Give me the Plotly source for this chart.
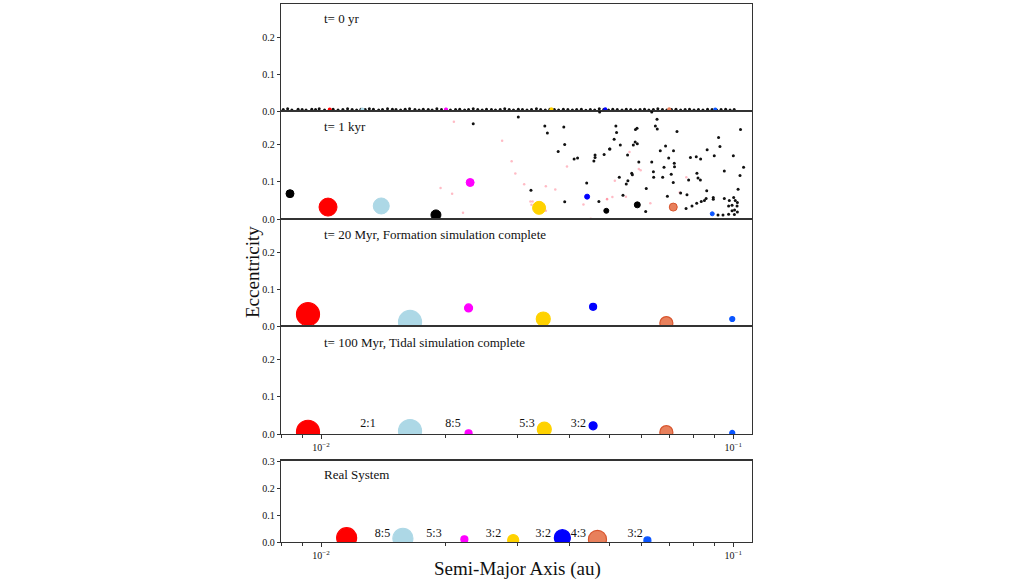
import plotly.graph_objects as go

# ---------------- data ----------------
# Panel 1 (t = 0 yr): embryos on near-circular orbits
p1_a = [0.0081, 0.0083, 0.0085, 0.0088, 0.0090, 0.0092, 0.0095, 0.0097, 0.0099, 0.0102,
        0.0105, 0.0107, 0.0110, 0.0113, 0.0116, 0.0119, 0.0122, 0.0125, 0.0128, 0.0131,
        0.0134, 0.0138, 0.0141, 0.0145, 0.0149, 0.0152, 0.0156, 0.0160, 0.0164, 0.0169,
        0.0173, 0.0177, 0.0182, 0.0186, 0.0191, 0.0196, 0.0201, 0.0206, 0.0212, 0.0217,
        0.0223, 0.0228, 0.0234, 0.0240, 0.0246, 0.0252, 0.0259, 0.0265, 0.0272, 0.0279,
        0.0286, 0.0293, 0.0301, 0.0308, 0.0316, 0.0324, 0.0333, 0.0341, 0.0350, 0.0359,
        0.0368, 0.0377, 0.0387, 0.0397, 0.0407, 0.0417, 0.0428, 0.0439, 0.0450, 0.0461,
        0.0473, 0.0485, 0.0498, 0.0510, 0.0523, 0.0537, 0.0550, 0.0564, 0.0579, 0.0594,
        0.0609, 0.0624, 0.0640, 0.0656, 0.0673, 0.0690, 0.0708, 0.0726, 0.0745, 0.0764,
        0.0783, 0.0803, 0.0823, 0.0844, 0.0866, 0.0888, 0.0911, 0.0934, 0.0958, 0.0982, 0.1005]
p1_e = [0.004, 0.006, 0.003, 0.005, 0.004, 0.003, 0.005, 0.004, 0.006, 0.003,
        0.004, 0.005, 0.003, 0.004, 0.006, 0.004, 0.003, 0.005, 0.004, 0.006,
        0.005, 0.003, 0.004, 0.006, 0.005, 0.004, 0.003, 0.005, 0.006, 0.004,
        0.003, 0.005, 0.004, 0.003, 0.006, 0.004, 0.005, 0.003, 0.004, 0.005,
        0.003, 0.004, 0.006, 0.004, 0.003, 0.005, 0.004, 0.003, 0.004, 0.006,
        0.004, 0.003, 0.005, 0.004, 0.003, 0.004, 0.006, 0.004, 0.003, 0.005,
        0.004, 0.003, 0.005, 0.004, 0.003, 0.004, 0.005, 0.002, 0.004, 0.003,
        0.006, 0.004, 0.003, 0.005, 0.004, 0.003, 0.005, 0.004, 0.003, 0.004,
        0.005, 0.003, 0.004, 0.006, 0.004, 0.003, 0.004, 0.005, 0.003, 0.004,
        0.005, 0.003, 0.004, 0.003, 0.005, 0.004, 0.003, 0.004, 0.005, 0.003, 0.004]
p1_col_a = [0.0105, 0.0126, 0.0201, 0.0362, 0.0489, 0.0699, 0.0904]
p1_col_e = [0.004, 0.004, 0.004, 0.005, 0.005, 0.005, 0.004]

# Panel 2 (t = 1 kyr): main bodies
p2_a = [0.00841, 0.0104, 0.0140, 0.0190, 0.0230, 0.0338, 0.0442, 0.0492, 0.0585, 0.0715, 0.0889]
p2_e = [0.068, 0.032, 0.035, 0.011, 0.098, 0.030, 0.060, 0.022, 0.038, 0.032, 0.014]
# small black bodies
p2_black_a = [0.0301, 0.0234, 0.0323, 0.0474, 0.0349, 0.0388, 0.0354, 0.0390, 0.0376, 0.0501,
              0.0411, 0.0419, 0.0462, 0.0462, 0.0459, 0.0486, 0.0441, 0.0390, 0.0472,
              0.0634, 0.0653, 0.0519, 0.0584, 0.0579, 0.0647, 0.0654, 0.0521, 0.0730, 0.0514,
              0.0578, 0.0585, 0.0572, 0.0532, 0.0685, 0.0502, 0.0554, 0.0665, 0.0716, 0.0697,
              0.0590, 0.0634, 0.0719, 0.0679, 0.0720, 0.0640, 0.0567, 0.0569, 0.0707, 0.0529,
              0.0641, 0.0674, 0.0555, 0.0550, 0.0715, 0.0615, 0.0540, 0.0692, 0.0613,
              0.1041, 0.0921, 0.0864, 0.0928, 0.0899, 0.1000, 0.0787, 0.0813, 0.0833, 0.1059,
              0.0951, 0.0816, 0.1038, 0.0821, 0.0832, 0.0779, 0.1027, 0.0862, 0.0745, 0.0772,
              0.0894, 0.0894, 0.0951, 0.0859, 0.0851, 0.0836, 0.0815, 0.0794, 0.0768,
              0.0978, 0.1002, 0.1011, 0.1023, 0.0993, 0.0974, 0.1021, 0.1007, 0.0993, 0.1023,
              0.0974, 0.1006, 0.0944, 0.0918]
p2_black_e = [0.274, 0.256, 0.077, 0.287, 0.250, 0.247, 0.231, 0.200, 0.181, 0.188,
              0.161, 0.164, 0.172, 0.165, 0.156, 0.173, 0.097, 0.046, 0.047,
              0.287, 0.268, 0.250, 0.244, 0.240, 0.250, 0.242, 0.232, 0.235, 0.214,
              0.207, 0.202, 0.199, 0.199, 0.196, 0.188, 0.172, 0.183, 0.183, 0.164,
              0.153, 0.153, 0.150, 0.139, 0.140, 0.127, 0.123, 0.119, 0.120, 0.112,
              0.112, 0.112, 0.103, 0.094, 0.098, 0.082, 0.064, 0.061, 0.020,
              0.240, 0.219, 0.186, 0.195, 0.170, 0.170, 0.165, 0.167, 0.161, 0.139,
              0.129, 0.123, 0.117, 0.110, 0.105, 0.105, 0.080, 0.076, 0.070, 0.065,
              0.058, 0.053, 0.055, 0.055, 0.050, 0.047, 0.042, 0.035, 0.028,
              0.050, 0.058, 0.050, 0.044, 0.037, 0.035, 0.035, 0.024, 0.022, 0.019,
              0.013, 0.012, 0.011, 0.011]
# small pink bodies
p2_pink_a = [0.0210, 0.0275, 0.0290, 0.0296, 0.0311, 0.0195, 0.0208, 0.0221, 0.0322, 0.0326,
             0.0324, 0.0395, 0.0351, 0.0370, 0.0494, 0.0433, 0.0451, 0.0351,
             0.0560, 0.0590, 0.0596, 0.0516, 0.0549, 0.0509, 0.0494, 0.0629, 0.0741, 0.0769]
p2_pink_e = [0.261, 0.210, 0.155, 0.122, 0.093, 0.083, 0.068, 0.017, 0.047, 0.047,
             0.038, 0.141, 0.088, 0.079, 0.053, 0.039, 0.001, 0.022,
             0.180, 0.134, 0.131, 0.103, 0.060, 0.059, 0.054, 0.042, 0.071, 0.112]

# Panel 3 (t = 20 Myr)
p3_a = [0.0093, 0.01644, 0.0228, 0.0346, 0.0457, 0.0688, 0.0994]
p3_e = [0.032, 0.011, 0.049, 0.019, 0.052, 0.008, 0.019]

# Panel 4 (t = 100 Myr)
p4_a = [0.0093, 0.01644, 0.0228, 0.0348, 0.0457, 0.0688, 0.0994]
p4_e = [0.006, 0.008, 0.002, 0.013, 0.022, 0.005, 0.003]
p4_ratio_a = [0.0130, 0.0209, 0.0316, 0.0421]
p4_ratio_text = ["2:1", "8:5", "5:3", "3:2"]

# Panel 5 (real system)
p5_a = [0.01154, 0.01580, 0.02227, 0.02925, 0.03849, 0.04683, 0.06189]
p5_e = [0.016, 0.014, 0.010, 0.007, 0.016, 0.010, 0.006]
p5_ratio_a = [0.0141, 0.0188, 0.0262, 0.0346, 0.0421, 0.0578]
p5_ratio_text = ["8:5", "5:3", "3:2", "3:2", "4:3", "3:2"]

titles = ["t= 0 yr", "t= 1 kyr", "t= 20 Myr, Formation simulation complete",
          "t= 100 Myr, Tidal simulation complete", "Real System"]

# ---------------- styles ----------------
RED, LB, MAG, YEL, BLU, ORA, SBL = "#ff0000", "#add8e6", "#ff00ff", "#ffd200", "#0000ff", "#e8805c", "#0a55ff"
planet_cols = [RED, LB, MAG, YEL, BLU, ORA, SBL]
planet_lines = [RED, LB, MAG, YEL, BLU, "#d8552e", SBL]
p2_cols = ["#000000", RED, LB, "#000000", MAG, YEL, BLU, "#000000", "#000000", ORA, SBL]
p2_lines = ["#000000", RED, LB, "#000000", MAG, YEL, BLU, "#000000", "#000000", "#d8552e", SBL]
p2_sizes = [8, 18, 16, 10, 8, 13, 5, 5, 6, 8, 4]
p3_sizes = [23, 23, 8, 14, 7, 13, 5]
p4_sizes = [23, 23, 7, 14, 8, 13, 5]
p5_sizes = [20, 20, 7, 11, 16, 18, 7]

FONT = "Liberation Serif"
fig = go.Figure()

def ax(n):
    return ("x" if n == 1 else f"x{n}"), ("y" if n == 1 else f"y{n}")

# panel 1
xa, ya = ax(1)
fig.add_trace(go.Scatter(x=p1_a, y=p1_e, mode="markers", xaxis=xa, yaxis=ya,
                         marker=dict(size=3, color="#111111")))
fig.add_trace(go.Scatter(x=p1_col_a, y=p1_col_e, mode="markers", xaxis=xa, yaxis=ya,
                         marker=dict(size=4, color=planet_cols)))
# panel 2
xa, ya = ax(2)
fig.add_trace(go.Scatter(x=p2_pink_a, y=p2_pink_e, mode="markers", xaxis=xa, yaxis=ya,
                         marker=dict(size=2.5, color="rgba(255,120,140,0.5)")))
fig.add_trace(go.Scatter(x=p2_black_a, y=p2_black_e, mode="markers", xaxis=xa, yaxis=ya,
                         marker=dict(size=3, color="#111111")))
fig.add_trace(go.Scatter(x=p2_a, y=p2_e, mode="markers", xaxis=xa, yaxis=ya,
                         marker=dict(size=p2_sizes, color=p2_cols, opacity=1,
                                     line=dict(color=p2_lines, width=1))))
# panels 3-5
for n, (a, e, s) in zip([3, 4, 5], [(p3_a, p3_e, p3_sizes), (p4_a, p4_e, p4_sizes), (p5_a, p5_e, p5_sizes)]):
    xa, ya = ax(n)
    fig.add_trace(go.Scatter(x=a, y=e, mode="markers", xaxis=xa, yaxis=ya,
                             marker=dict(size=s, color=planet_cols, opacity=1,
                                         line=dict(color=planet_lines, width=1.2))))
xa, ya = ax(4)
fig.add_trace(go.Scatter(x=p4_ratio_a, y=[0.027] * len(p4_ratio_a), mode="text", text=p4_ratio_text,
                         xaxis=xa, yaxis=ya, textfont=dict(family=FONT, size=12, color="#111")))
xa, ya = ax(5)
fig.add_trace(go.Scatter(x=p5_ratio_a, y=[0.031] * len(p5_ratio_a), mode="text", text=p5_ratio_text,
                         xaxis=xa, yaxis=ya, textfont=dict(family=FONT, size=12, color="#111")))

H = 579.0
def dom(top, bottom):
    return [1 - bottom / H, 1 - top / H]

ydoms = [dom(4, 111), dom(111, 219), dom(219, 326), dom(326, 434), dom(460.5, 542)]
xdom = [281 / 1024, 752 / 1024]
xrange = [-2.097, -0.9547]
minor_vals = [0.008, 0.009, 0.02, 0.03, 0.04, 0.05, 0.06, 0.07, 0.08, 0.09]

layout = dict(template="none", width=1024, height=579, margin=dict(l=0, r=0, t=0, b=0, pad=0, autoexpand=False),
              paper_bgcolor="white", plot_bgcolor="white", showlegend=False, hovermode=False,
              font=dict(family=FONT, color="#111"))
for i in range(1, 6):
    sfx = "" if i == 1 else str(i)
    show_ticks = i in (4, 5)
    xaxis = dict(domain=xdom, type="log", range=xrange, anchor="y" + sfx, automargin=False,
                 showline=True, mirror=True, linecolor="#333", linewidth=1.3,
                 showgrid=False, zeroline=False,
                 tickvals=[0.01, 0.1] if show_ticks else [],
                 ticktext=["10<sup>−2</sup>", "10<sup>−1</sup>"] if show_ticks else [],
                 ticks="outside" if show_ticks else "", ticklen=4, tickcolor="#333",
                 tickfont=dict(family=FONT, size=10, color="#111"))
    if show_ticks:
        xaxis["minor"] = dict(tickvals=minor_vals, ticks="outside", ticklen=2.5, tickcolor="#333")
    if i != 1:
        xaxis["matches"] = "x"
    yrng = [0, 0.303] if i == 5 else [0, 0.29]
    ytv = [0, 0.1, 0.2, 0.3] if i == 5 else [0, 0.1, 0.2]
    yaxis = dict(domain=ydoms[i - 1], range=yrng, anchor="x" + sfx, automargin=False,
                 showline=True, mirror=True, linecolor="#333", linewidth=1.3,
                 showgrid=False, zeroline=False, tickvals=ytv,
                 ticktext=[f"{v:.1f}" for v in ytv], ticks="outside", ticklen=3,
                 tickcolor="#333", tickfont=dict(family=FONT, size=10, color="#111"))
    layout["xaxis" + sfx] = xaxis
    layout["yaxis" + sfx] = yaxis

title_y = [19, 127, 235, 342, 474]
annotations = []
for t, yy in zip(titles, title_y):
    annotations.append(dict(text=t, x=322 / 1024, y=1 - yy / H, xref="paper", yref="paper",
                            xanchor="left", yanchor="middle", showarrow=False,
                            font=dict(family=FONT, size=13, color="#111")))
annotations.append(dict(text="Eccentricity", x=252 / 1024, y=1 - 272 / H, xref="paper", yref="paper",
                        textangle=-90, showarrow=False, xanchor="center", yanchor="middle",
                        font=dict(family=FONT, size=19, color="#111")))
annotations.append(dict(text="Semi-Major Axis (au)", x=517 / 1024, y=1 - 569 / H, xref="paper", yref="paper",
                        showarrow=False, xanchor="center", yanchor="middle",
                        font=dict(family=FONT, size=19, color="#111")))
layout["annotations"] = annotations
fig.update_layout(**layout)
fig.write_html("out.html", config={"displayModeBar": False, "staticPlot": True},
               post_script="document.body.style.margin='0';document.body.style.overflow='hidden';")
